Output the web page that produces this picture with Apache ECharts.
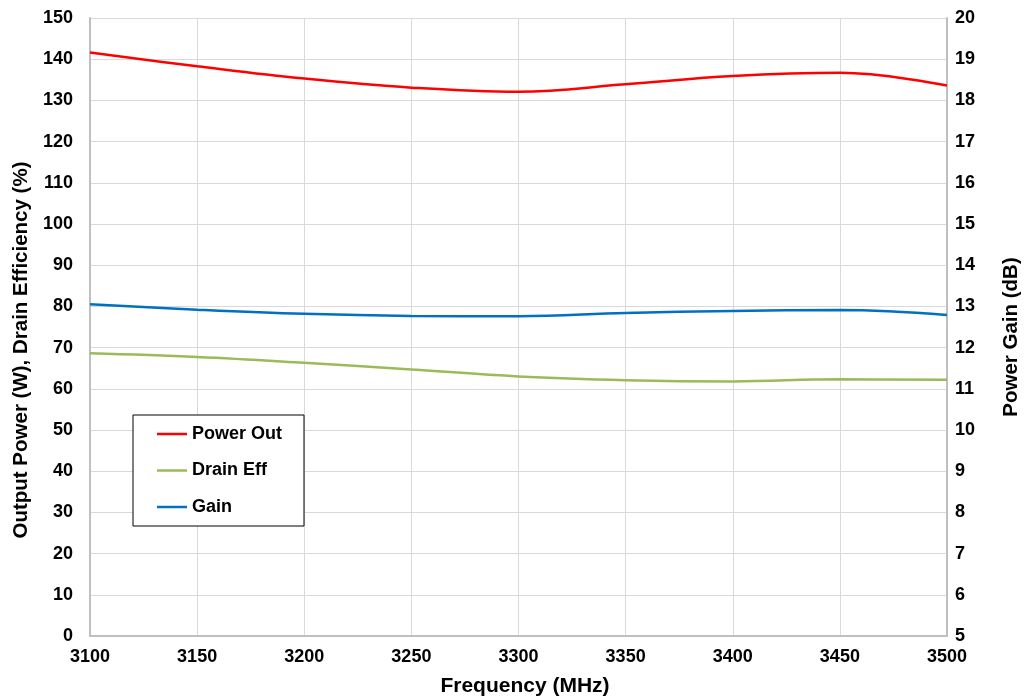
<!DOCTYPE html>
<html>
<head>
<meta charset="utf-8">
<script src="https://cdn.jsdelivr.net/npm/echarts@6/dist/echarts.min.js"></script>
<style>
  html, body { margin: 0; padding: 0; background: #fff; }
  #chart { width: 1025px; height: 698px; }
</style>
</head>
<body>
<div id="chart"></div>
<script>
// frequency points (MHz)
const freq = [3100, 3150, 3200, 3250, 3300, 3350, 3400, 3450, 3500]
// output power (W), left axis
const powerOut = [141.6, 138.3, 135.3, 133.1, 132.1, 133.9, 135.9, 136.7, 133.6]
// drain efficiency (%), left axis
const drainEff = [68.6, 67.7, 66.3, 64.7, 63.0, 62.1, 61.8, 62.3, 62.2]
// gain (dB), right axis
const gain = [13.05, 12.92, 12.82, 12.77, 12.76, 12.84, 12.89, 12.91, 12.79]

const pairs = (ys) => freq.map((f, i) => [f, ys[i]])

const font = 'Liberation Sans, Arial, sans-serif'
const axisText = { color: '#000', fontFamily: font, fontWeight: 'bold', fontSize: 18 }
const nameText = { color: '#000', fontFamily: font, fontWeight: 'bold', fontSize: 20.5 }
const gridLine = { lineStyle: { color: '#d9d9d9', width: 1 } }
const axisLine = { show: true, lineStyle: { color: '#bfbfbf', width: 2 } }

const chart = echarts.init(document.getElementById('chart'))

chart.setOption({
  animation: false,
  backgroundColor: '#fff',
  grid: { left: 90, right: 78, top: 18, bottom: 62, containLabel: false, outerBoundsMode: 'none' },
  legend: {
    orient: 'vertical',
    left: 133,
    top: 415,
    padding: [9, 22, 9, 24],
    itemGap: 16.5,
    itemWidth: 30,
    itemHeight: 2.5,
    icon: 'rect',
    borderColor: '#000',
    borderWidth: 1,
    backgroundColor: '#fff',
    textStyle: { ...axisText, lineHeight: 20 },
    data: ['Power Out', 'Drain Eff', 'Gain'],
  },
  xAxis: {
    type: 'value',
    min: 3100,
    max: 3500,
    interval: 50,
    name: 'Frequency (MHz)',
    nameLocation: 'middle',
    nameGap: 40,
    nameTextStyle: { ...nameText, fontSize: 21, padding: [0, 0, 0, 13] },
    axisLine: axisLine,
    axisTick: { show: false },
    axisLabel: { ...axisText, margin: 12, formatter: (v) => String(v) },
    splitLine: { show: true, ...gridLine },
  },
  yAxis: [
    {
      type: 'value',
      min: 0,
      max: 150,
      interval: 10,
      name: 'Output Power (W), Drain Efficiency (%)',
      nameLocation: 'middle',
      nameGap: 57,
      nameTextStyle: { ...nameText, padding: [0, 46, 0, 0] },
      axisLine: axisLine,
      axisTick: { show: false },
      axisLabel: { ...axisText, margin: 17 },
      splitLine: { show: true, ...gridLine },
    },
    {
      type: 'value',
      min: 5,
      max: 20,
      interval: 1,
      name: 'Power Gain (dB)',
      nameLocation: 'middle',
      nameGap: 54,
      nameRotate: 90,
      nameTextStyle: { ...nameText, padding: [0, 20, 0, 0] },
      position: 'right',
      axisLine: axisLine,
      axisTick: { show: false },
      axisLabel: { ...axisText, margin: 8 },
      splitLine: { show: false },
    },
  ],
  series: [
    {
      name: 'Power Out',
      type: 'line',
      smooth: 0.4,
      showSymbol: false,
      data: pairs(powerOut),
      itemStyle: { color: '#ff0000' },
      lineStyle: { color: '#ff0000', width: 2.5 },
    },
    {
      name: 'Drain Eff',
      type: 'line',
      smooth: 0.4,
      showSymbol: false,
      data: pairs(drainEff),
      itemStyle: { color: '#9bbb59' },
      lineStyle: { color: '#9bbb59', width: 2.5 },
    },
    {
      name: 'Gain',
      type: 'line',
      yAxisIndex: 1,
      smooth: 0.4,
      showSymbol: false,
      data: pairs(gain),
      itemStyle: { color: '#0070c0' },
      lineStyle: { color: '#0070c0', width: 2.5 },
    },
  ],
})

window.addEventListener('resize', () => chart.resize())
</script>
</body>
</html>
